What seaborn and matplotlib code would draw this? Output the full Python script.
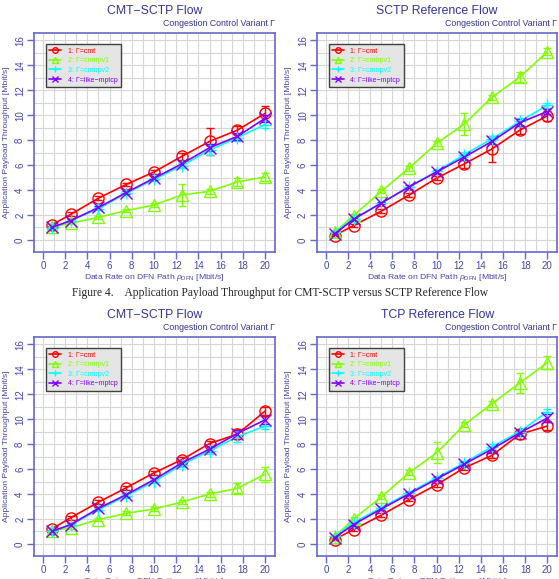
import numpy as np
import pandas as pd
import seaborn as sns
import matplotlib.pyplot as plt
from matplotlib.ticker import MultipleLocator

# data rates on the DFN path [Mbit/s]
rates = [0.8, 2.5, 5, 7.5, 10, 12.5, 15, 17.5, 20]
variants = ["1: \u0393=cmt", "2: \u0393=cmtrpv1", "3: \u0393=cmtrpv2", "4: \u0393=like\u2212mptcp"]

# --- CMT-SCTP flow (against SCTP reference)
a_cmt = [1.2, 2.05, 3.35, 4.45, 5.45, 6.7, 7.9, 8.8, 10.15]
a_rpv1 = [1.0, 1.35, 1.8, 2.35, 2.8, 3.6, 3.9, 4.65, 5.05]
a_rpv2 = [0.95, 1.55, 2.5, 3.75, 4.85, 5.95, 7.2, 8.2, 9.25]
a_mptcp = [1.0, 1.55, 2.6, 3.8, 4.95, 6.1, 7.4, 8.3, 9.75]
a_cmt_err = [0.1, 0.15, 0.15, 0.15, 0.15, 0.3, 1.1, 0.3, 0.6]
a_rpv1_err = [0.05, 0.1, 0.1, 0.15, 0.15, 0.9, 0.2, 0.35, 0.3]
a_rpv2_err = [0.05, 0.1, 0.1, 0.15, 0.15, 0.2, 0.4, 0.3, 0.3]
a_mptcp_err = [0.05, 0.1, 0.15, 0.15, 0.15, 0.2, 0.3, 0.3, 0.3]

# --- SCTP reference flow
b_cmt = [0.35, 1.15, 2.3, 3.6, 4.95, 6.1, 7.3, 8.8, 9.95]
b_rpv1 = [0.6, 1.95, 3.9, 5.75, 7.75, 9.3, 11.45, 13.05, 15.1]
b_rpv2 = [0.6, 1.7, 2.95, 4.25, 5.5, 6.85, 8.1, 9.5, 10.8]
b_mptcp = [0.5, 1.65, 2.95, 4.25, 5.45, 6.65, 7.9, 9.4, 10.3]
b_cmt_err = [0.05, 0.1, 0.15, 0.15, 0.15, 0.3, 1.05, 0.3, 0.4]
b_rpv1_err = [0.1, 0.15, 0.15, 0.2, 0.2, 0.9, 0.2, 0.4, 0.3]
b_rpv2_err = [0.05, 0.1, 0.1, 0.15, 0.15, 0.2, 0.2, 0.25, 0.2]
b_mptcp_err = [0.05, 0.1, 0.1, 0.15, 0.15, 0.2, 0.2, 0.3, 0.2]

# --- CMT-SCTP flow (against TCP reference)
c_cmt = [1.2, 2.1, 3.35, 4.5, 5.7, 6.75, 8.05, 8.8, 10.65]
c_rpv1 = [1.05, 1.3, 1.95, 2.45, 2.8, 3.35, 4.0, 4.45, 5.6]
c_rpv2 = [1.0, 1.5, 2.75, 3.85, 5.0, 6.35, 7.45, 8.6, 9.45]
c_mptcp = [1.0, 1.55, 2.85, 3.95, 5.15, 6.5, 7.6, 8.85, 9.95]
c_cmt_err = [0.1, 0.15, 0.15, 0.15, 0.15, 0.2, 0.2, 0.4, 0.35]
c_rpv1_err = [0.05, 0.1, 0.1, 0.15, 0.15, 0.15, 0.2, 0.4, 0.6]
c_rpv2_err = [0.05, 0.1, 0.1, 0.15, 0.15, 0.15, 0.2, 0.45, 0.2]
c_mptcp_err = [0.05, 0.1, 0.1, 0.15, 0.15, 0.15, 0.2, 0.3, 0.3]

# --- TCP reference flow
d_cmt = [0.35, 1.15, 2.3, 3.55, 4.75, 6.1, 7.1, 8.8, 9.45]
d_rpv1 = [0.55, 2.0, 3.75, 5.7, 7.3, 9.55, 11.25, 12.9, 14.55]
d_rpv2 = [0.6, 1.7, 2.9, 4.1, 5.3, 6.5, 7.8, 9.0, 10.6]
d_mptcp = [0.5, 1.55, 2.8, 4.0, 5.2, 6.4, 7.6, 8.9, 10.1]
d_cmt_err = [0.05, 0.1, 0.15, 0.15, 0.15, 0.15, 0.2, 0.4, 0.3]
d_rpv1_err = [0.1, 0.15, 0.15, 0.2, 0.85, 0.2, 0.25, 0.8, 0.5]
d_rpv2_err = [0.05, 0.1, 0.1, 0.15, 0.15, 0.15, 0.2, 0.25, 0.2]
d_mptcp_err = [0.05, 0.1, 0.1, 0.15, 0.15, 0.15, 0.2, 0.25, 0.3]

panels = [
    ("CMT\u2212SCTP Flow", [a_cmt, a_rpv1, a_rpv2, a_mptcp], [a_cmt_err, a_rpv1_err, a_rpv2_err, a_mptcp_err]),
    ("SCTP Reference Flow", [b_cmt, b_rpv1, b_rpv2, b_mptcp], [b_cmt_err, b_rpv1_err, b_rpv2_err, b_mptcp_err]),
    ("CMT\u2212SCTP Flow", [c_cmt, c_rpv1, c_rpv2, c_mptcp], [c_cmt_err, c_rpv1_err, c_rpv2_err, c_mptcp_err]),
    ("TCP Reference Flow", [d_cmt, d_rpv1, d_rpv2, d_mptcp], [d_cmt_err, d_rpv1_err, d_rpv2_err, d_mptcp_err]),
]

colors = ["#ff0000", "#80ff00", "#00ffff", "#8000ff"]
markers = ["o", "^", "+", "x"]
title_col = "#333399"
axis_col = "#6666cc"
label_col = "#4444aa"

sns.set_theme(style="white")
plt.rcParams["font.family"] = ["Liberation Sans", "DejaVu Sans"]
plt.rcParams["mathtext.fontset"] = "custom"
plt.rcParams["mathtext.rm"] = "Liberation Sans"
plt.rcParams["mathtext.it"] = "Liberation Sans:italic"

fig = plt.figure(figsize=(5.59, 5.79), dpi=100)

# axes positions [left, bottom, width, height] in figure fractions
boxes = [
    [0.061, 0.565, 0.431, 0.378],
    [0.567, 0.565, 0.430, 0.378],
    [0.061, 0.040, 0.431, 0.378],
    [0.567, 0.040, 0.430, 0.378],
]

for (title, ys, errs), box in zip(panels, boxes):
    ax = fig.add_axes(box)
    ax.set_xlim(-0.8, 20.9)
    ax.set_ylim(-0.96, 16.6)
    ax.xaxis.set_major_locator(MultipleLocator(2))
    ax.yaxis.set_major_locator(MultipleLocator(2))
    ax.xaxis.set_minor_locator(MultipleLocator(1))
    ax.yaxis.set_minor_locator(MultipleLocator(1))
    ax.grid(which="both", color="#d6d6d6", lw=0.8)
    ax.set_axisbelow(True)

    for i in range(4):
        df = pd.DataFrame({"rate": rates, "tp": ys[i]})
        ax.errorbar(rates, ys[i], yerr=errs[i], fmt="none", ecolor=colors[i],
                    elinewidth=1.0, capsize=3, capthick=1.0, zorder=3)
        mfc = "none" if markers[i] in ("o", "^") else colors[i]
        sns.lineplot(data=df, x="rate", y="tp", ax=ax, color=colors[i],
                     marker=markers[i], markersize=8, markerfacecolor=mfc,
                     markeredgecolor=colors[i], markeredgewidth=1.0, lw=1.2,
                     label=variants[i], zorder=4)

    for s in ax.spines.values():
        s.set_color(axis_col)
        s.set_linewidth(1.2)
    ax.tick_params(which="major", direction="out", length=5, width=1.0,
                   color=axis_col, labelcolor=label_col, labelsize=7, pad=1.5,
                   bottom=True, left=True)
    ax.tick_params(which="minor", length=0)
    ax.tick_params(axis="y", labelrotation=90)
    for lab in ax.get_yticklabels():
        lab.set_verticalalignment("center")

    ax.set_xlabel("Data Rate on DFN Path $\\rho_{\\mathrm{DFN}}$ [Mbit/s]",
                  color=label_col, fontsize=6.1, labelpad=0.5)
    ax.set_ylabel("Application Payload Throughput [Mbit/s]",
                  color=label_col, fontsize=6.1, labelpad=4)

    ax.set_title(title, color=title_col, fontsize=8.8, pad=14)
    ax.text(1.0, 1.025, "Congestion Control Variant \u0393", transform=ax.transAxes,
            ha="right", va="bottom", color=title_col, fontsize=6.3)

    leg = ax.legend(loc="upper left", bbox_to_anchor=(0.035, 0.965), fontsize=5.0,
                    frameon=True, fancybox=False, framealpha=1.0, handlelength=1.7,
                    handletextpad=0.9, borderpad=0.5, labelspacing=0.38,
                    markerscale=0.5)
    leg.get_frame().set_facecolor("#e5e5e5")
    leg.get_frame().set_edgecolor("#404040")
    leg.get_frame().set_linewidth(1.0)
    for t, c in zip(leg.get_texts(), colors):
        t.set_color(c)

fig.text(0.5, 0.494, "Figure 4.    Application Payload Throughput for CMT-SCTP versus SCTP Reference Flow",
         ha="center", va="center", fontsize=8.3, family="Liberation Serif", color="#222222")

fig.savefig("out.png", dpi=100)
